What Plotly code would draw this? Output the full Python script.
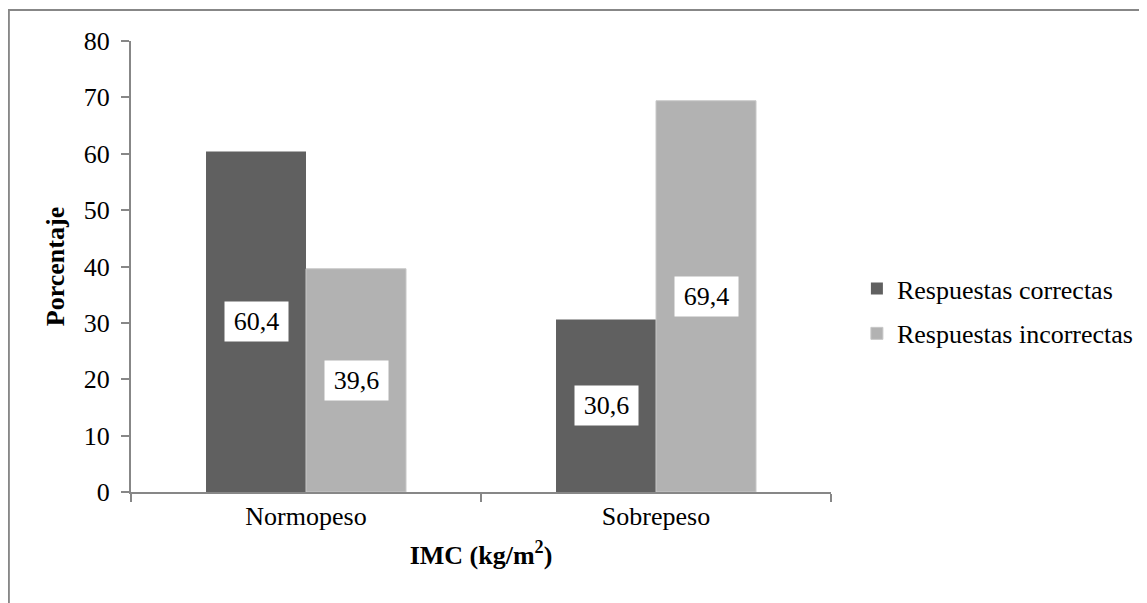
import plotly.graph_objects as go

categories = ["Normopeso", "Sobrepeso"]
correctas = [60.4, 30.6]
incorrectas = [39.6, 69.4]
series_names = ["Respuestas correctas", "Respuestas incorrectas"]
label_texts_correctas = ["60,4", "30,6"]
label_texts_incorrectas = ["39,6", "69,4"]
y_ticks = [0, 10, 20, 30, 40, 50, 60, 70, 80]

FONT = "Liberation Serif, Times New Roman, serif"
DARK = "#606060"
LIGHT = "#b2b2b2"
AXIS = "#878787"
FS = 26

fig = go.Figure()
fig.add_trace(go.Bar(x=categories, y=correctas, name=series_names[0],
                     marker=dict(color=DARK, line=dict(width=0)),
                     legendgroup="a", hoverinfo="skip"))
fig.add_trace(go.Bar(x=categories, y=incorrectas, name=series_names[1],
                     marker=dict(color=LIGHT, line=dict(color="#c8c8c8", width=1)),
                     legendgroup="b", hoverinfo="skip"))

annotations = []
for cat, v, t in zip(categories, correctas, label_texts_correctas):
    annotations.append(dict(x=cat, y=v / 2, text=t, xref="x", yref="y", showarrow=False,
                            xshift=-50, bgcolor="white", width=55, height=31, borderpad=4,
                            font=dict(family=FONT, size=FS, color="black")))
for cat, v, t in zip(categories, incorrectas, label_texts_incorrectas):
    annotations.append(dict(x=cat, y=v / 2, text=t, xref="x", yref="y", showarrow=False,
                            xshift=50, bgcolor="white", width=55, height=31, borderpad=4,
                            font=dict(family=FONT, size=FS, color="black")))

fig.update_layout(
    width=1139, height=595,
    margin=dict(l=123, r=316, t=33, b=111, autoexpand=False),
    paper_bgcolor="white", plot_bgcolor="white",
    font=dict(family=FONT, size=FS, color="black"),
    barmode="group", bargap=0.4286, bargroupgap=0,
    showlegend=True,
    legend=dict(x=1.037, y=0.401, xanchor="left", yanchor="middle",
                font=dict(family=FONT, size=FS, color="black"),
                tracegroupgap=8, bgcolor="rgba(0,0,0,0)"),
    annotations=annotations,
    shapes=[dict(type="rect", xref="paper", yref="paper",
                 x0=-0.1745, x1=2.0, y0=-1.0, y1=1.0687,
                 line=dict(color=AXIS, width=2), fillcolor="rgba(0,0,0,0)", layer="below")],
)
fig.update_xaxes(type="category", showline=True, linecolor=AXIS, linewidth=2,
                 ticks="outside", tickson="boundaries", ticklen=8, tickcolor=AXIS, tickwidth=2,
                 showgrid=False, zeroline=False,
                 tickfont=dict(family=FONT, size=FS, color="black"),
                 title=dict(text="<b>IMC (kg/m<sup>2</sup>)</b>", font=dict(family=FONT, size=FS, color="black"),
                            standoff=16))
fig.update_yaxes(range=[0, 80], tickvals=y_ticks, showline=True, linecolor=AXIS, linewidth=2,
                 ticks="outside", ticklen=8, tickcolor=AXIS, tickwidth=2,
                 showgrid=False, zeroline=False, ticklabelstandoff=6,
                 tickfont=dict(family=FONT, size=FS, color="black"),
                 title=dict(text="<b>Porcentaje</b>", font=dict(family=FONT, size=FS, color="black"),
                            standoff=12))

fig.write_html("out.html")
